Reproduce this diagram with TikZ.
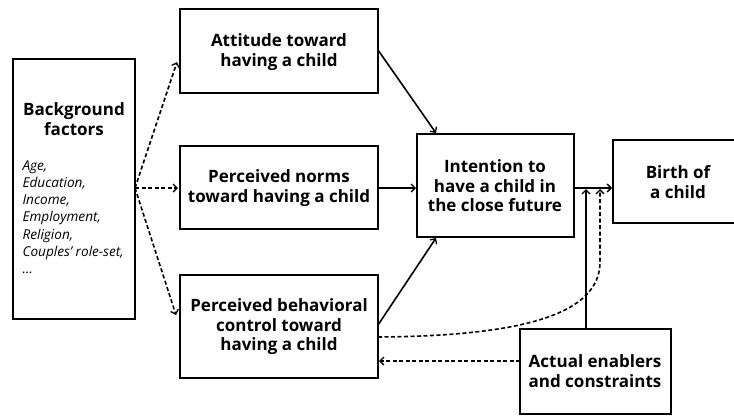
\documentclass[tikz,border=0pt]{standalone}
\usepackage{fontspec}
\setmainfont{Open Sans}
\usetikzlibrary{arrows.meta}
\begin{document}
\begin{tikzpicture}[x=1pt,y=-1pt,
  box/.style={draw, line width=1.6pt, inner sep=0pt},
  lbl/.style={font=\bfseries\fontsize{17}{19.5}\selectfont, align=center},
  arr/.style={line width=1.6pt, -{Straight Barb[length=4pt,width=8pt,line width=1.3pt]}},
  darr/.style={arr, dash pattern=on 4pt off 2.5pt}
]
\useasboundingbox (0,0) rectangle (734,416);
% boxes
\draw[box] (13,59) rectangle (135,319);
\draw[box] (180,9) rectangle (378,93);
\draw[box] (180,146) rectangle (378,229);
\draw[box] (180,275) rectangle (378,378);
\draw[box] (417,134) rectangle (574,237);
\draw[box] (613,140) rectangle (740,223);
\draw[box] (520,329) rectangle (671,414);
% labels
\node[lbl] (bg) at (74,119) {Background\\factors};
\node[font=\itshape\fontsize{13.6}{17.2}\selectfont, align=left, anchor=north west] (bgl) at (19,157)
  {Age,\\Education,\\Income,\\Employment,\\Religion,\\Couples' role-set,\\\dots};
\node[lbl] (att) at (279,52) {Attitude toward\\having a child};
\node[lbl] (norm) at (279,188) {Perceived norms\\toward having a child};
\node[lbl] (pbc) at (279,327) {Perceived behavioral\\control toward\\having a child};
\node[lbl] (int) at (495,186) {Intention to\\have a child in\\the close future};
\node[lbl] (birth) at (678,182) {Birth of\\a child};
\node[lbl] (act) at (595,371) {Actual enablers\\and constraints};
% coordinates
\coordinate (o) at (135,188);
\coordinate (attT) at (177,62);
\coordinate (normT) at (178,188);
\coordinate (pbcT) at (176,315);
\coordinate (attR) at (378,50);
\coordinate (intTop) at (436,133);
\coordinate (normR) at (378,188);
\coordinate (intL) at (416,188);
\coordinate (pbcR) at (378,325);
\coordinate (intBot) at (436,238);
\coordinate (intR) at (574,188);
\coordinate (birthL) at (612,188);
\coordinate (actTop) at (586,329);
\coordinate (j1) at (586,189);
\coordinate (pbcR2) at (378,337);
\coordinate (j2) at (600,189);
\coordinate (actL) at (520,361);
\coordinate (pbcR3) at (379,361);
% dashed from background
\draw[darr] (o) -- (attT);
\draw[darr] (o) -- (normT);
\draw[darr] (o) -- (pbcT);
% solid
\draw[arr] (attR) -- (intTop);
\draw[arr] (normR) -- (intL);
\draw[arr] (pbcR) -- (intBot);
\draw[arr] (intR) -- (birthL);
\draw[arr] (actTop) -- (j1);
\draw[darr] (pbcR2) .. controls (520,336) and (600,315) .. (600,262) -- (j2);
\draw[darr] (actL) -- (pbcR3);
\end{tikzpicture}
\end{document}
